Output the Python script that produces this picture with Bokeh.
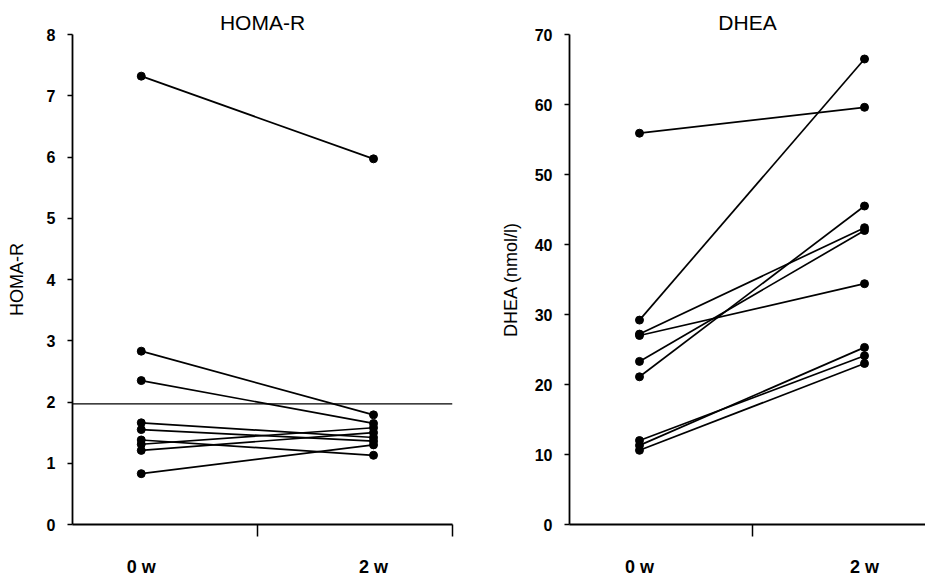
from bokeh.plotting import figure
from bokeh.layouts import row
from bokeh.models import Range1d, FixedTicker, Span
from bokeh.embed import file_html
from bokeh.resources import INLINE

# ---- data ----
week_labels = ["0 w", "2 w"]
week_pos = [0, 1]

homa_0w = [7.32, 2.83, 2.35, 1.66, 1.55, 1.38, 1.31, 1.21, 0.83]
homa_2w = [5.97, 1.79, 1.65, 1.42, 1.36, 1.13, 1.58, 1.50, 1.30]
homa_cutoff = 1.97
homa_ticks = [0, 1, 2, 3, 4, 5, 6, 7, 8]

dhea_0w = [55.9, 29.2, 27.2, 27.0, 23.3, 21.1, 12.0, 11.3, 10.6]
dhea_2w = [59.6, 66.5, 42.4, 34.4, 42.0, 45.5, 24.1, 25.3, 23.0]
dhea_ticks = [0, 10, 20, 30, 40, 50, 60, 70]

FONT = "Liberation Sans"


def make_panel(title, ylabel, v0, v1, yticks, x_start, x_end, frame_w,
               border_left, border_right, extra_minor, title_offset,
               label_standoff):
    p = figure(width=border_left + frame_w + border_right, height=564,
               frame_width=frame_w, frame_height=490,
               min_border_left=border_left, min_border_right=border_right,
               min_border_top=34, min_border_bottom=40,
               x_range=Range1d(x_start, x_end),
               y_range=Range1d(yticks[0], yticks[-1]),
               output_backend="svg", toolbar_location=None, tools="")
    p.outline_line_color = None
    p.grid.visible = False
    p.background_fill_color = "white"
    p.border_fill_color = "white"

    p.title.text = title
    p.title.align = "center"
    p.title.text_font = FONT
    p.title.text_font_style = "normal"
    p.title.text_font_size = "21px"
    p.title.text_color = "black"
    p.title.standoff = 2
    p.title.offset = title_offset

    xs = [[week_pos[0], week_pos[1]] for _ in v0]
    ys = [[a, b] for a, b in zip(v0, v1)]
    p.multi_line(xs=xs, ys=ys, line_color="black", line_width=1.7)
    p.scatter(x=[week_pos[0]] * len(v0) + [week_pos[1]] * len(v1),
              y=list(v0) + list(v1), size=8, color="black")

    xa = p.xaxis[0]
    minor = [0.5] + extra_minor
    xa.ticker = FixedTicker(ticks=week_pos, minor_ticks=minor)
    xa.major_label_overrides = {week_pos[0]: week_labels[0],
                                week_pos[1]: week_labels[1]}
    xa.major_tick_out = 0
    xa.major_tick_in = 0
    xa.minor_tick_out = 12
    xa.minor_tick_in = 0
    xa.minor_tick_line_color = "black"
    xa.minor_tick_line_width = 1.5
    xa.axis_line_width = 1.8
    xa.axis_line_color = "black"
    xa.major_label_standoff = 20
    xa.major_label_text_font = FONT
    xa.major_label_text_font_style = "bold"
    xa.major_label_text_font_size = "18px"
    xa.major_label_text_color = "black"

    ya = p.yaxis[0]
    ya.ticker = FixedTicker(ticks=yticks)
    ya.minor_tick_line_color = None
    ya.major_tick_out = 5
    ya.major_tick_in = 0
    ya.major_tick_line_width = 1.5
    ya.major_tick_line_color = "black"
    ya.axis_line_width = 1.8
    ya.axis_line_color = "black"
    ya.major_label_standoff = 12
    ya.major_label_text_font = FONT
    ya.major_label_text_font_style = "bold"
    ya.major_label_text_font_size = "16px"
    ya.major_label_text_color = "black"
    ya.axis_label = ylabel
    ya.axis_label_text_font = FONT
    ya.axis_label_text_font_style = "normal"
    ya.axis_label_text_font_size = "18px"
    ya.axis_label_text_color = "black"
    ya.axis_label_standoff = label_standoff
    return p


left = make_panel("HOMA-R", "HOMA-R", homa_0w, homa_2w, homa_ticks,
                  -0.296, 1.34, 380, 72, 39, [1.34], 0, 17)
left.add_layout(Span(location=homa_cutoff, dimension="width",
                     line_color="black", line_width=1.3))

right = make_panel("DHEA", "DHEA (nmol/l)", dhea_0w, dhea_2w, dhea_ticks,
                   -0.311, 1.271, 356, 78, 0, [], -14, 11)

layout = row(left, right)
open("out.html", "w").write(file_html(layout, INLINE))
